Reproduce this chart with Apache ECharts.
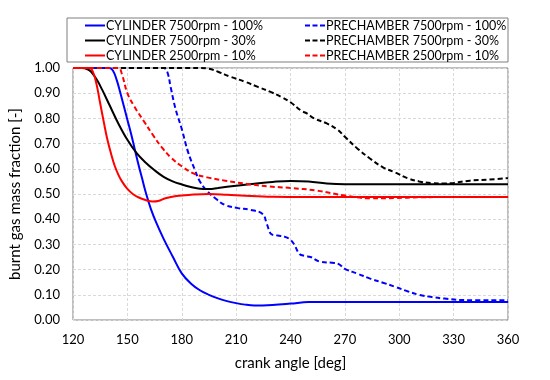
<!DOCTYPE html>
<html>
<head>
<meta charset="utf-8">
<script src="https://cdn.jsdelivr.net/npm/echarts@6/dist/echarts.min.js"></script>
<style>html,body{margin:0;padding:0;background:#fff}#c{width:550px;height:380px}</style>
</head>
<body>
<div id="c"></div>
<script>
const xTicks = [120,150,180,210,240,270,300,330,360];
const seriesNames = [
  'CYLINDER 7500rpm - 100%', 'PRECHAMBER 7500rpm - 100%',
  'CYLINDER 7500rpm - 30%', 'PRECHAMBER 7500rpm - 30%',
  'CYLINDER 2500rpm - 10%', 'PRECHAMBER 2500rpm - 10%'
];

const cyl100Angle = [120,140,142,144,146,148,150,152,154,156,158,160,163,166,170,175,180,185,190,195,200,205,210,215,220,230,240,250,360];
const cyl100Value = [1,1,0.99,0.955,0.905,0.85,0.795,0.74,0.68,0.62,0.565,0.51,0.44,0.385,0.322,0.252,0.185,0.145,0.118,0.1,0.086,0.075,0.067,0.061,0.058,0.06,0.065,0.071,0.071];

const pre100Angle = [120,170,172,174,176.6,180,183.5,187,190,194,199,204,211,218,224.6,227,229.5,233,237,240,242,245,248,251,256,263,266.6,270,277,284,291,298,304.5,311,318,325,335,360];
const pre100Value = [1,1,0.985,0.92,0.837,0.758,0.666,0.6,0.55,0.512,0.48,0.456,0.444,0.437,0.421,0.38,0.34,0.335,0.33,0.318,0.3,0.262,0.254,0.25,0.232,0.227,0.222,0.203,0.184,0.164,0.148,0.131,0.114,0.1,0.091,0.085,0.079,0.078];

const cyl30Angle = [120,125,128,130,133,136,140,145,150,155,160,165,170,175,180,185,190,195,200,210,220,230,240,250,260,270,360];
const cyl30Value = [1,1,0.995,0.985,0.955,0.915,0.855,0.78,0.715,0.663,0.625,0.594,0.568,0.55,0.538,0.528,0.521,0.52,0.524,0.533,0.541,0.548,0.552,0.55,0.542,0.539,0.539];

const pre30Angle = [120,190,195,200,207,215,222,229,235,240,246,249,253,260,266,270,277,284,291,298,304.5,311,318,325,330,339,349,360];
const pre30Value = [1,1,0.997,0.985,0.965,0.945,0.925,0.905,0.885,0.864,0.83,0.82,0.8,0.78,0.755,0.727,0.68,0.64,0.606,0.585,0.563,0.55,0.543,0.542,0.544,0.553,0.557,0.563];

const cyl10Angle = [120,129,131,133,135,137,139,141,143,145,147,150,153,156,160,164,167,171,177,185,195,205,215,230,250,360];
const cyl10Value = [1,1,0.985,0.935,0.86,0.785,0.715,0.66,0.612,0.577,0.55,0.52,0.5,0.487,0.476,0.47,0.472,0.483,0.492,0.497,0.5,0.497,0.493,0.489,0.488,0.488];

const pre10Angle = [120,145,147,150,154,159,164,169,174,180,187,194,204,216,228,240,254,270,284,298,311,330,360];
const pre10Value = [1,1,0.975,0.9,0.845,0.79,0.735,0.685,0.645,0.61,0.58,0.566,0.553,0.54,0.53,0.524,0.514,0.494,0.483,0.484,0.487,0.488,0.488];

function pairs(a, v) { return a.map((x, i) => [x, v[i]]); }

const FONT = 'Lato';
function mk(name, a, v, color, dashed) {
  return {
    name: name, type: 'line', data: pairs(a, v),
    showSymbol: false, symbol: 'none', smooth: 0.4,
    lineStyle: { color: color, width: 2, type: dashed ? [5, 3] : 'solid' },
    itemStyle: { color: color }
  };
}
const SOLID_ICON = 'path://M0,0H20V2H0Z';
const DASH_ICON = 'path://M0,0H5V2H0Z M7.5,0H12.5V2H7.5Z M15,0H20V2H15Z';

const chart = echarts.init(document.getElementById('c'), null, { renderer: 'canvas' });
const legendCommon = {
  orient: 'vertical', itemWidth: 20, itemHeight: 2, itemGap: 0, top: 18, padding: 0,
  textStyle: { fontFamily: FONT, fontSize: 12.5, color: '#000', lineHeight: 15, padding: [0, 0, 0, -4] }
};
chart.setOption({
  animation: false,
  backgroundColor: '#fff',
  grid: { left: 67, right: 42, top: 68, bottom: 60, show: true, borderColor: '#7f7f7f', borderWidth: 1 },
  graphic: [{ type: 'rect', shape: { x: 67, y: 18, width: 441, height: 44 }, style: { fill: 'none', stroke: '#7f7f7f', lineWidth: 1 } }],
  legend: [
    Object.assign({}, legendCommon, { left: 85, data: [0, 2, 4].map(i => ({ name: seriesNames[i], icon: SOLID_ICON })) }),
    Object.assign({}, legendCommon, { left: 305, data: [1, 3, 5].map(i => ({ name: seriesNames[i], icon: DASH_ICON })) })
  ],
  xAxis: {
    type: 'value', min: 120, max: 360, interval: 30,
    name: 'crank angle [deg]', nameLocation: 'middle', nameGap: 36,
    nameTextStyle: { fontFamily: FONT, fontSize: 15, color: '#000' },
    axisLine: { show: false }, axisTick: { show: false },
    axisLabel: { fontFamily: FONT, fontSize: 13, color: '#000', margin: 13 },
    splitLine: { show: true, lineStyle: { color: '#d9d9d9', type: [3, 2] } }
  },
  yAxis: {
    type: 'value', min: 0, max: 1, interval: 0.1,
    name: 'burnt gas mass fraction [-]', nameLocation: 'middle', nameGap: 50,
    nameTextStyle: { fontFamily: FONT, fontSize: 15, color: '#000' },
    axisLine: { show: false }, axisTick: { show: false },
    axisLabel: { fontFamily: FONT, fontSize: 13, color: '#000', margin: 13, formatter: v => v.toFixed(2) },
    splitLine: { show: true, lineStyle: { color: '#d9d9d9', type: [3, 2] } }
  },
  series: [
    mk(seriesNames[0], cyl100Angle, cyl100Value, '#0000ff', false),
    mk(seriesNames[1], pre100Angle, pre100Value, '#0000ff', true),
    mk(seriesNames[2], cyl30Angle, cyl30Value, '#000000', false),
    mk(seriesNames[3], pre30Angle, pre30Value, '#000000', true),
    mk(seriesNames[4], cyl10Angle, cyl10Value, '#ff0000', false),
    mk(seriesNames[5], pre10Angle, pre10Value, '#ff0000', true)
  ]
});
</script>
</body>
</html>
